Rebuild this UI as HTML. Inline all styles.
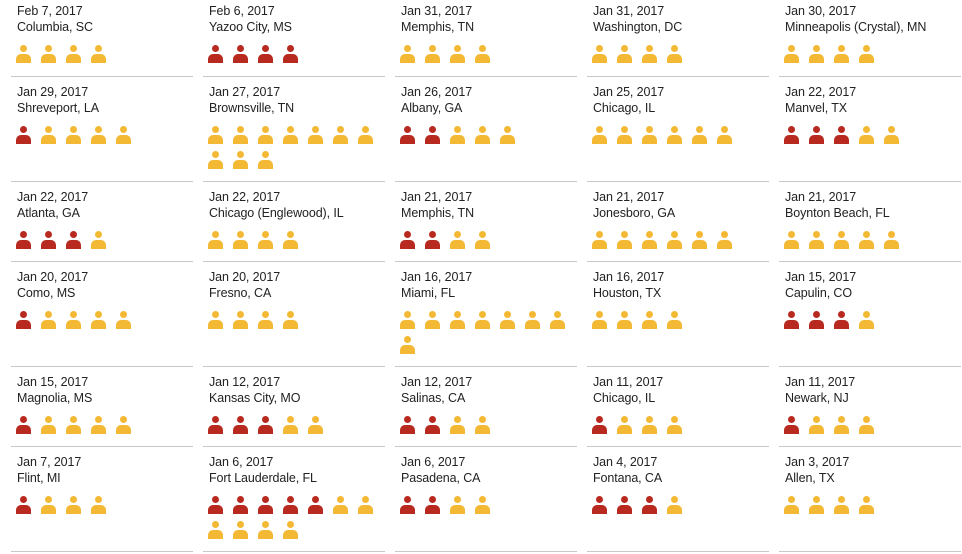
<!DOCTYPE html>
<html><head><meta charset="utf-8"><style>
body{margin:0;width:962px;height:554px;background:#fff;overflow:hidden;position:relative;font-family:"Liberation Sans",sans-serif;color:#222}
.c{position:absolute;width:182px;border-bottom:1px solid #c8c8c8}
.d,.t{position:absolute;left:6px;font-size:12.5px;line-height:16px;white-space:nowrap;letter-spacing:-0.1px}
.d{top:7px}.t{top:23px}
.i{position:absolute;left:5px;top:49px;width:180px;line-height:0}
.i span{display:inline-block;position:relative;width:15px;height:18px;margin-right:10px;margin-bottom:7px}
.i span:before{content:"";position:absolute;left:4px;top:0;width:7px;height:7px;border-radius:50%;background:currentColor}
.i span:after{content:"";position:absolute;left:0;top:9px;width:15px;height:9px;border-radius:5px 5px 0 0;background:currentColor}
.y{color:#f3b935}.r{color:#b82a1f}
</style></head><body>
<div class="c" style="left:11px;top:-4px;height:80px"><div class="d">Feb 7, 2017</div><div class="t">Columbia, SC</div><div class="i"><span class="y"></span><span class="y"></span><span class="y"></span><span class="y"></span></div></div>
<div class="c" style="left:203px;top:-4px;height:80px"><div class="d">Feb 6, 2017</div><div class="t">Yazoo City, MS</div><div class="i"><span class="r"></span><span class="r"></span><span class="r"></span><span class="r"></span></div></div>
<div class="c" style="left:395px;top:-4px;height:80px"><div class="d">Jan 31, 2017</div><div class="t">Memphis, TN</div><div class="i"><span class="y"></span><span class="y"></span><span class="y"></span><span class="y"></span></div></div>
<div class="c" style="left:587px;top:-4px;height:80px"><div class="d">Jan 31, 2017</div><div class="t">Washington, DC</div><div class="i"><span class="y"></span><span class="y"></span><span class="y"></span><span class="y"></span></div></div>
<div class="c" style="left:779px;top:-4px;height:80px"><div class="d">Jan 30, 2017</div><div class="t">Minneapolis (Crystal), MN</div><div class="i"><span class="y"></span><span class="y"></span><span class="y"></span><span class="y"></span></div></div>
<div class="c" style="left:11px;top:77px;height:104px"><div class="d">Jan 29, 2017</div><div class="t">Shreveport, LA</div><div class="i"><span class="r"></span><span class="y"></span><span class="y"></span><span class="y"></span><span class="y"></span></div></div>
<div class="c" style="left:203px;top:77px;height:104px"><div class="d">Jan 27, 2017</div><div class="t">Brownsville, TN</div><div class="i"><span class="y"></span><span class="y"></span><span class="y"></span><span class="y"></span><span class="y"></span><span class="y"></span><span class="y"></span><span class="y"></span><span class="y"></span><span class="y"></span></div></div>
<div class="c" style="left:395px;top:77px;height:104px"><div class="d">Jan 26, 2017</div><div class="t">Albany, GA</div><div class="i"><span class="r"></span><span class="r"></span><span class="y"></span><span class="y"></span><span class="y"></span></div></div>
<div class="c" style="left:587px;top:77px;height:104px"><div class="d">Jan 25, 2017</div><div class="t">Chicago, IL</div><div class="i"><span class="y"></span><span class="y"></span><span class="y"></span><span class="y"></span><span class="y"></span><span class="y"></span></div></div>
<div class="c" style="left:779px;top:77px;height:104px"><div class="d">Jan 22, 2017</div><div class="t">Manvel, TX</div><div class="i"><span class="r"></span><span class="r"></span><span class="r"></span><span class="y"></span><span class="y"></span></div></div>
<div class="c" style="left:11px;top:182px;height:79px"><div class="d">Jan 22, 2017</div><div class="t">Atlanta, GA</div><div class="i"><span class="r"></span><span class="r"></span><span class="r"></span><span class="y"></span></div></div>
<div class="c" style="left:203px;top:182px;height:79px"><div class="d">Jan 22, 2017</div><div class="t">Chicago (Englewood), IL</div><div class="i"><span class="y"></span><span class="y"></span><span class="y"></span><span class="y"></span></div></div>
<div class="c" style="left:395px;top:182px;height:79px"><div class="d">Jan 21, 2017</div><div class="t">Memphis, TN</div><div class="i"><span class="r"></span><span class="r"></span><span class="y"></span><span class="y"></span></div></div>
<div class="c" style="left:587px;top:182px;height:79px"><div class="d">Jan 21, 2017</div><div class="t">Jonesboro, GA</div><div class="i"><span class="y"></span><span class="y"></span><span class="y"></span><span class="y"></span><span class="y"></span><span class="y"></span></div></div>
<div class="c" style="left:779px;top:182px;height:79px"><div class="d">Jan 21, 2017</div><div class="t">Boynton Beach, FL</div><div class="i"><span class="y"></span><span class="y"></span><span class="y"></span><span class="y"></span><span class="y"></span></div></div>
<div class="c" style="left:11px;top:262px;height:104px"><div class="d">Jan 20, 2017</div><div class="t">Como, MS</div><div class="i"><span class="r"></span><span class="y"></span><span class="y"></span><span class="y"></span><span class="y"></span></div></div>
<div class="c" style="left:203px;top:262px;height:104px"><div class="d">Jan 20, 2017</div><div class="t">Fresno, CA</div><div class="i"><span class="y"></span><span class="y"></span><span class="y"></span><span class="y"></span></div></div>
<div class="c" style="left:395px;top:262px;height:104px"><div class="d">Jan 16, 2017</div><div class="t">Miami, FL</div><div class="i"><span class="y"></span><span class="y"></span><span class="y"></span><span class="y"></span><span class="y"></span><span class="y"></span><span class="y"></span><span class="y"></span></div></div>
<div class="c" style="left:587px;top:262px;height:104px"><div class="d">Jan 16, 2017</div><div class="t">Houston, TX</div><div class="i"><span class="y"></span><span class="y"></span><span class="y"></span><span class="y"></span></div></div>
<div class="c" style="left:779px;top:262px;height:104px"><div class="d">Jan 15, 2017</div><div class="t">Capulin, CO</div><div class="i"><span class="r"></span><span class="r"></span><span class="r"></span><span class="y"></span></div></div>
<div class="c" style="left:11px;top:367px;height:79px"><div class="d">Jan 15, 2017</div><div class="t">Magnolia, MS</div><div class="i"><span class="r"></span><span class="y"></span><span class="y"></span><span class="y"></span><span class="y"></span></div></div>
<div class="c" style="left:203px;top:367px;height:79px"><div class="d">Jan 12, 2017</div><div class="t">Kansas City, MO</div><div class="i"><span class="r"></span><span class="r"></span><span class="r"></span><span class="y"></span><span class="y"></span></div></div>
<div class="c" style="left:395px;top:367px;height:79px"><div class="d">Jan 12, 2017</div><div class="t">Salinas, CA</div><div class="i"><span class="r"></span><span class="r"></span><span class="y"></span><span class="y"></span></div></div>
<div class="c" style="left:587px;top:367px;height:79px"><div class="d">Jan 11, 2017</div><div class="t">Chicago, IL</div><div class="i"><span class="r"></span><span class="y"></span><span class="y"></span><span class="y"></span></div></div>
<div class="c" style="left:779px;top:367px;height:79px"><div class="d">Jan 11, 2017</div><div class="t">Newark, NJ</div><div class="i"><span class="r"></span><span class="y"></span><span class="y"></span><span class="y"></span></div></div>
<div class="c" style="left:11px;top:447px;height:104px"><div class="d">Jan 7, 2017</div><div class="t">Flint, MI</div><div class="i"><span class="r"></span><span class="y"></span><span class="y"></span><span class="y"></span></div></div>
<div class="c" style="left:203px;top:447px;height:104px"><div class="d">Jan 6, 2017</div><div class="t">Fort Lauderdale, FL</div><div class="i"><span class="r"></span><span class="r"></span><span class="r"></span><span class="r"></span><span class="r"></span><span class="y"></span><span class="y"></span><span class="y"></span><span class="y"></span><span class="y"></span><span class="y"></span></div></div>
<div class="c" style="left:395px;top:447px;height:104px"><div class="d">Jan 6, 2017</div><div class="t">Pasadena, CA</div><div class="i"><span class="r"></span><span class="r"></span><span class="y"></span><span class="y"></span></div></div>
<div class="c" style="left:587px;top:447px;height:104px"><div class="d">Jan 4, 2017</div><div class="t">Fontana, CA</div><div class="i"><span class="r"></span><span class="r"></span><span class="r"></span><span class="y"></span></div></div>
<div class="c" style="left:779px;top:447px;height:104px"><div class="d">Jan 3, 2017</div><div class="t">Allen, TX</div><div class="i"><span class="y"></span><span class="y"></span><span class="y"></span><span class="y"></span></div></div>
</body></html>
